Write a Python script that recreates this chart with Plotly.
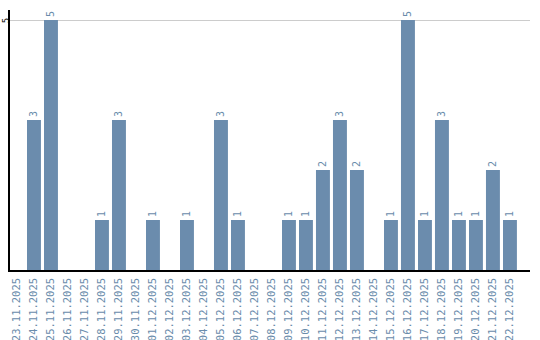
import plotly.graph_objects as go

dates = ["23.11.2025","24.11.2025","25.11.2025","26.11.2025","27.11.2025","28.11.2025",
         "29.11.2025","30.11.2025","01.12.2025","02.12.2025","03.12.2025","04.12.2025",
         "05.12.2025","06.12.2025","07.12.2025","08.12.2025","09.12.2025","10.12.2025",
         "11.12.2025","12.12.2025","13.12.2025","14.12.2025","15.12.2025","16.12.2025",
         "17.12.2025","18.12.2025","19.12.2025","20.12.2025","21.12.2025","22.12.2025"]
counts = [0,3,5,0,0,1,3,0,1,0,1,0,3,1,0,0,1,1,2,3,2,0,1,5,1,3,1,1,2,1]

labels = [str(c) if c > 0 else "" for c in counts]

fig = go.Figure(go.Bar(
    x=list(range(len(dates))), y=counts, text=labels, textposition="outside",
    textangle=-90, cliponaxis=False,
    textfont=dict(family="DejaVu Sans Mono", size=10, color="#6a8cab"),
    marker=dict(color="#6b8cad", line=dict(width=0)),
))
fig.update_layout(
    width=540, height=340, margin=dict(l=10, r=10, t=10, b=70),
    paper_bgcolor="white", plot_bgcolor="white", showlegend=False, bargap=0.18,
    font=dict(family="DejaVu Sans Mono"),
)
fig.update_xaxes(
    tickmode="array", tickvals=list(range(len(dates))), ticktext=dates, automargin=False,
    tickangle=-90, range=[-0.41, 30.18], showline=True, linecolor="black", linewidth=1.5,
    showgrid=False, ticks="", ticklabelstandoff=2,
    tickfont=dict(family="DejaVu Sans Mono", size=10.5, color="#6a8cab"),
)
fig.update_yaxes(
    range=[0, 5.2], tickvals=[5], ticktext=["5"], tickangle=-90, showline=True, automargin=False,
    linecolor="black", linewidth=1.5, showgrid=True, gridcolor="#cccccc", zeroline=False,
    ticks="", ticklabelstandoff=-4, ticklabelshift=2,
    tickfont=dict(family="DejaVu Sans Mono", size=9, color="black"),
)
fig.write_html("out.html")
